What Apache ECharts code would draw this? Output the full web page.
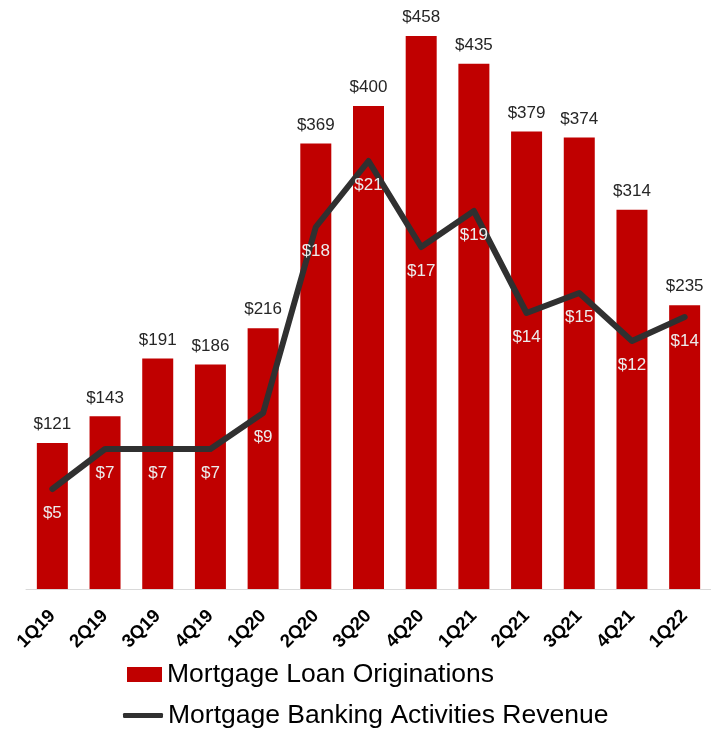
<!DOCTYPE html>
<html>
<head>
<meta charset="utf-8">
<script src="https://cdn.jsdelivr.net/npm/echarts@6/dist/echarts.min.js"></script>
<style>
html,body{margin:0;padding:0;background:#fff;}
#chart{width:711px;height:731px;}
</style>
</head>
<body>
<div id="chart"></div>
<script>
const categories = ['1Q19','2Q19','3Q19','4Q19','1Q20','2Q20','3Q20','4Q20','1Q21','2Q21','3Q21','4Q21','1Q22'];
const originations = [121,143,191,186,216,369,400,458,435,379,374,314,235];
const revenue = [5.0,7.0,7.0,7.0,8.8,18.1,21.4,17.1,18.9,13.8,14.8,12.4,13.6];
const barName = 'Mortgage Loan Originations';
const lineName = 'Mortgage Banking Activities Revenue';

const FONT = '"Liberation Sans", Arial, sans-serif';
const chart = echarts.init(document.getElementById('chart'), null, {renderer:'canvas'});
chart.setOption({
  animation: false,
  backgroundColor: '#ffffff',
  textStyle: {fontFamily: FONT},
  grid: {left: 26, right: -6, top: 36, bottom: 142, containLabel: false},
  legend: [
    {
      left: 122, top: 656, itemWidth: 35, itemHeight: 15, itemGap: 6,
      textStyle: {fontSize: 26.5, color: '#000', fontFamily: FONT},
      data: [{name: barName, icon: 'rect'}]
    },
    {
      left: 118, top: 697, itemWidth: 40, itemHeight: 5, itemGap: 6,
      textStyle: {fontSize: 26.5, color: '#000', fontFamily: FONT},
      data: [{name: lineName, icon: 'roundRect'}]
    }
  ],
  xAxis: {
    type: 'category',
    data: categories,
    axisLine: {lineStyle: {color: '#d9d9d9', width: 1}},
    axisTick: {show: false},
    axisLabel: {rotate: 45, margin: 24, fontSize: 18.5, fontWeight: 'bold', color: '#000', fontFamily: FONT, interval: 0}
  },
  yAxis: [
    {type: 'value', min: 0, max: 458, show: false, splitLine: {show: false}},
    {type: 'value', min: 0, max: 27.65, show: false, splitLine: {show: false}}
  ],
  series: [
    {
      name: barName,
      type: 'bar',
      data: originations,
      barWidth: 31,
      itemStyle: {color: '#c00000'},
      label: {
        show: true, position: 'top', distance: 10,
        fontSize: 17, color: '#262626', fontFamily: FONT,
        formatter: p => '$' + p.value
      }
    },
    {
      name: lineName,
      type: 'line',
      yAxisIndex: 1,
      data: revenue,
      symbol: 'circle',
      symbolSize: 1,
      itemStyle: {color: '#303030'},
      lineStyle: {color: '#303030', width: 6, cap: 'round', join: 'round'},
      label: {
        show: true, position: 'bottom', distance: 15,
        fontSize: 17, color: '#ececec', fontFamily: FONT,
        formatter: p => '$' + Math.round(p.value)
      },
      z: 5
    }
  ]
});
</script>
</body>
</html>
